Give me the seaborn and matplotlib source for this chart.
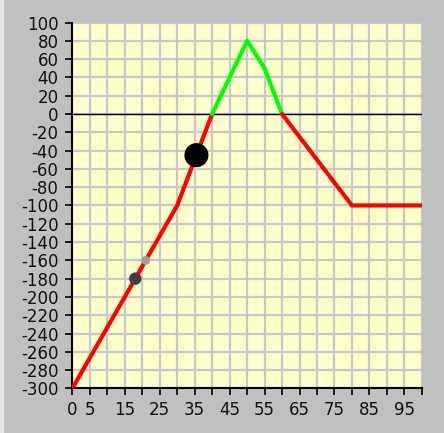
import numpy as np
import pandas as pd
import seaborn as sns
import matplotlib
matplotlib.use('Agg')
import matplotlib.pyplot as plt
from matplotlib.patches import Rectangle

# profil (valeur vs x)
seg_x = [[0, 30, 40], [40, 50, 55, 60], [60, 80, 100]]
seg_y = [[-300, -100, 0], [0, 80, 50, 0], [0, -100, -100]]
seg_color = ['#ff0000', '#00ff00', '#ff0000']

# points marqués
pt_x = [18, 21, 35.5]
pt_y = [-180, -160, -45]
pt_color = ['#404040', '#a0a0a0', '#000000']
pt_size = [80, 40, 300]

x_ticks = list(range(0, 101, 5))
x_labels = ['0', '5'] + [str(v) if v % 10 == 5 else '' for v in x_ticks[2:]]
y_ticks = list(range(-300, 101, 20))
y_labels = [str(v) for v in y_ticks]

sns.set_style('white')
plt.rcParams['font.family'] = ['DejaVu Sans']

fig = plt.figure(figsize=(4.44, 4.33), dpi=100, facecolor='#c0c0c0')
fig.patches.append(Rectangle((0, 0), 3 / 444, 1, transform=fig.transFigure,
                             color='#e6e6e6', zorder=0))
ax = fig.add_axes([0.163, 0.103, 0.787, 0.845])
ax.set_facecolor('#ffffcc')

for xs, ys, c in zip(seg_x, seg_y, seg_color):
    df = pd.DataFrame({'x': xs, 'y': ys})
    sns.lineplot(data=df, x='x', y='y', color=c, linewidth=3, sort=False,
                 estimator=None, ax=ax, zorder=3)

ax.axhline(0, color='black', linewidth=1, zorder=2)

pts = pd.DataFrame({'x': pt_x, 'y': pt_y})
for i in range(len(pt_x)):
    sns.scatterplot(x=[pt_x[i]], y=[pt_y[i]], color=pt_color[i], s=pt_size[i],
                    edgecolor='none', ax=ax, zorder=4)

ax.set_xlim(0, 100)
ax.set_ylim(-300, 100)
ax.set_xticks(x_ticks)
ax.set_xticklabels(x_labels)
ax.set_yticks(y_ticks)
ax.set_yticklabels(y_labels)
ax.grid(True, color='#c8c8c8', linewidth=1.6, zorder=1)
ax.set_axisbelow(True)
ax.set_xlabel('')
ax.set_ylabel('')

for s in ['top', 'right']:
    ax.spines[s].set_visible(False)
for s in ['left', 'bottom']:
    ax.spines[s].set_color('black')
    ax.spines[s].set_linewidth(1.5)
ax.tick_params(axis='both', direction='out', length=5, width=1.2, color='black',
               labelsize=12, labelcolor='#111111', left=True, bottom=True)
ax.tick_params(axis='y', pad=5)
ax.tick_params(axis='x', pad=4)

plt.savefig('out.png', dpi=100, facecolor=fig.get_facecolor())
